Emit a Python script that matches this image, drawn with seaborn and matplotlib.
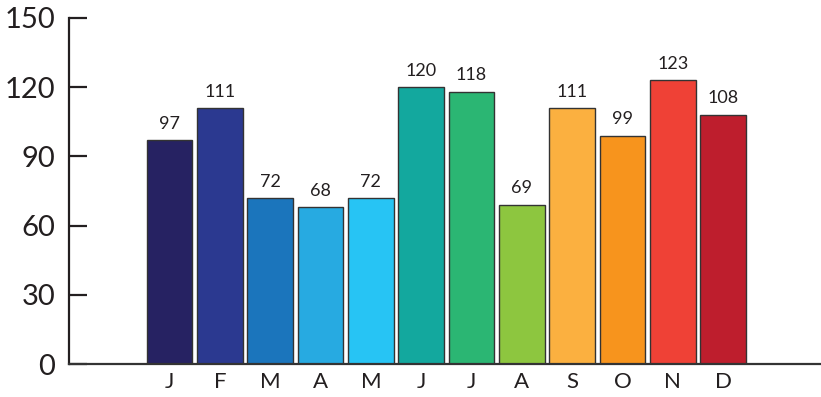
import matplotlib
matplotlib.use("Agg")
import matplotlib.pyplot as plt
import seaborn as sns

# monthly values
months = ["Jan", "Feb", "Mar", "Apr", "May", "Jun",
          "Jul", "Aug", "Sep", "Oct", "Nov", "Dec"]
letters = ["J", "F", "M", "A", "M", "J", "J", "A", "S", "O", "N", "D"]
values = [97, 111, 72, 68, 72, 120, 118, 69, 111, 99, 123, 108]
colors = ["#262262", "#2B3990", "#1B75BC", "#27AAE1", "#27C4F4", "#13A89E",
          "#2BB673", "#8DC63F", "#FBB040", "#F7941D", "#EF4136", "#BE1E2D"]

sns.set_theme(style="white")
plt.rcParams["font.family"] = ["Lato", "DejaVu Sans"]

fig = plt.figure(figsize=(8.21, 3.97), dpi=100)
ax = fig.add_axes([0.084, 0.083, 0.915, 0.872])

sns.barplot(x=months, y=values, hue=months, palette=colors, width=0.91,
            saturation=1, edgecolor="#333333", linewidth=1.0, legend=False, ax=ax)

for c in ax.containers:
    ax.bar_label(c, padding=6, fontsize=13, color="#231f20")

ax.set_ylim(0, 150)
ax.set_xlim(-2.0, 12.93)
ax.set_yticks([0, 30, 60, 90, 120, 150])
ax.set_xticks(range(12))
ax.set_xticklabels(letters)
ax.tick_params(axis="y", direction="in", length=13, width=1.6, color="#231f20",
               labelsize=21, pad=10, labelcolor="#231f20", left=True)
ax.tick_params(axis="x", length=0, labelsize=16, pad=6, labelcolor="#231f20")

for s in ["top", "right"]:
    ax.spines[s].set_visible(False)
ax.spines["left"].set_linewidth(1.6)
ax.spines["left"].set_color("#231f20")
ax.spines["bottom"].set_linewidth(1.6)
ax.spines["bottom"].set_color("#333333")
ax.set_xlabel("")
ax.set_ylabel("")

fig.savefig("out.png", dpi=100)
